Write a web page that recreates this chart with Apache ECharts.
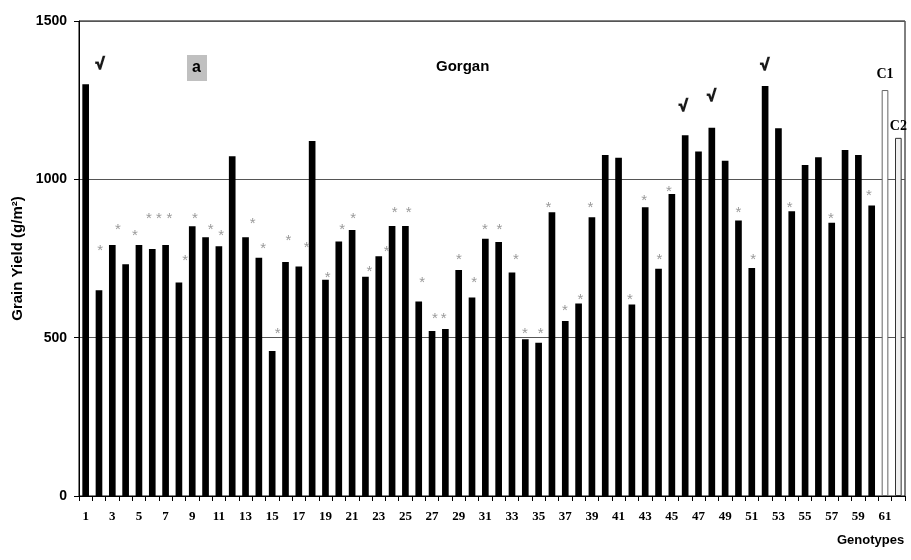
<!DOCTYPE html>
<html><head><meta charset="utf-8">
<script src="https://cdn.jsdelivr.net/npm/echarts@6/dist/echarts.min.js"></script>
<style>html,body{margin:0;padding:0;background:#fff}#c{width:911px;height:560px}</style>
</head><body><div id="c"></div>
<script>
var categories = ["1","2","3","4","5","6","7","8","9","10","11","12","13","14","15","16","17","18","19","20","21","22","23","24","25","26","27","28","29","30","31","32","33","34","35","36","37","38","39","40","41","42","43","44","45","46","47","48","49","50","51","52","53","54","55","56","57","58","59","60","61","62"];
var genotypeYield = [1300,650,793,732,793,780,793,674,852,817,789,1073,817,752,458,739,725,1121,683,804,840,692,757,853,853,614,521,527,714,627,812,802,706,495,484,896,553,608,880,1077,1068,605,912,718,954,1139,1088,1163,1059,870,720,1295,1161,899,1045,1070,863,1093,1077,917];
var controlYield = [1282,1131];
var controlNames = ["C1","C2"];
var yTicks = [0,500,1000,1500];
// asterisk annotations: position along genotype axis (1 = first bar) and yield level
var starPos = [2.08,3.43,4.70,5.75,6.50,7.28,8.46,9.21,10.39,11.18,13.54,14.33,15.41,16.22,17.59,19.17,20.26,21.07,22.29,23.60,24.20,25.25,26.25,27.22,27.87,29.02,30.17,30.97,32.06,33.30,33.98,35.15,35.73,36.98,38.13,38.88,41.86,42.93,44.06,44.78,49.99,51.11,53.84,56.94,59.80];
var starLevel = [787,854,833,887,887,887,756,887,854,833,871,793,524,818,795,703,854,887,722,785,906,906,685,571,571,758,685,854,854,758,524,524,924,596,632,924,632,944,758,974,906,758,924,887,959];
var checkPos = [2.08,45.86,47.99,51.99];
var checkLevel = [1361,1229,1261,1358];

var barData = [];
for (var i = 0; i < genotypeYield.length; i++) barData.push({value: genotypeYield[i]});
for (var j = 0; j < controlYield.length; j++) {
  barData.push({
    value: controlYield[j],
    itemStyle: {color: j === 0 ? '#ffffff' : '#f0f0f0', borderColor: j === 0 ? '#666' : '#333', borderWidth: 1},
    label: {show: true, position: 'top', distance: j === 0 ? 9 : 4, formatter: controlNames[j],
      fontFamily: 'Liberation Serif', fontWeight: 'bold', fontSize: 14, color: '#000'}
  });
}
var starData = starPos.map(function(p, k){ return [p, starLevel[k]]; });
var checkData = checkPos.map(function(p, k){ return [p, checkLevel[k]]; });

var chart = echarts.init(document.getElementById('c'), null, {renderer: 'canvas'});
chart.setOption({
  animation: false,
  grid: {left: 79, right: 6, top: 21, bottom: 64, show: true, borderColor: '#000', borderWidth: 1, backgroundColor: 'transparent'},
  xAxis: [{
    type: 'category', data: categories, boundaryGap: true,
    axisLine: {lineStyle: {color: '#000'}},
    axisTick: {show: true, interval: 0, length: 5, inside: false, lineStyle: {color: '#000'}},
    axisLabel: {interval: 1, fontFamily: 'Liberation Serif', fontWeight: 'bold', fontSize: 13, color: '#000', margin: 14},
    splitLine: {show: false}
  }, {
    type: 'value', min: 0.5, max: 62.5, show: false, position: 'bottom'
  }],
  yAxis: {
    type: 'value', min: yTicks[0], max: yTicks[yTicks.length-1], interval: 500,
    name: 'Grain Yield (g/m²)', nameLocation: 'middle', nameGap: 51,
    nameTextStyle: {fontFamily: 'Liberation Sans', fontWeight: 'bold', fontSize: 15, color: '#000'},
    axisLine: {show: true, lineStyle: {color: '#000'}},
    axisTick: {show: true, length: 5, lineStyle: {color: '#000'}},
    axisLabel: {fontFamily: 'Liberation Sans', fontWeight: 'bold', fontSize: 14, color: '#000', margin: 12,
      formatter: function(v){ return String(v); }},
    splitLine: {show: true, lineStyle: {color: '#555', width: 1}}
  },
  series: [{
    type: 'bar', data: barData, barWidth: '50%', itemStyle: {color: '#000'},
    xAxisIndex: 0, yAxisIndex: 0
  }, {
    type: 'scatter', xAxisIndex: 1, yAxisIndex: 0, data: starData, symbolSize: 1,
    itemStyle: {color: 'rgba(0,0,0,0)'},
    label: {show: true, position: 'inside', formatter: '*', offset: [0, 4], fontFamily: 'Liberation Sans', fontSize: 15, color: '#808080'}
  }, {
    type: 'scatter', xAxisIndex: 1, yAxisIndex: 0, data: checkData, symbolSize: 1,
    itemStyle: {color: 'rgba(0,0,0,0)'},
    label: {show: true, position: 'inside', formatter: '√', offset: [0, 0], fontFamily: 'Liberation Sans', fontWeight: 'bold', fontSize: 16, color: '#000',
      textBorderColor: '#000', textBorderWidth: 1.2}
  }],
  graphic: [
    {type: 'rect', left: 187, top: 55, shape: {width: 20, height: 26}, style: {fill: '#c0c0c0'}},
    {type: 'text', left: 192, top: 60, style: {text: 'a', font: 'bold 16px "Liberation Sans"', fill: '#000'}},
    {type: 'text', left: 436, top: 59, style: {text: 'Gorgan', font: 'bold 15px "Liberation Sans"', fill: '#000'}},
    {type: 'text', left: 837, top: 534, style: {text: 'Genotypes', font: 'bold 13px "Liberation Sans"', fill: '#000'}}
  ]
});
</script></body></html>
